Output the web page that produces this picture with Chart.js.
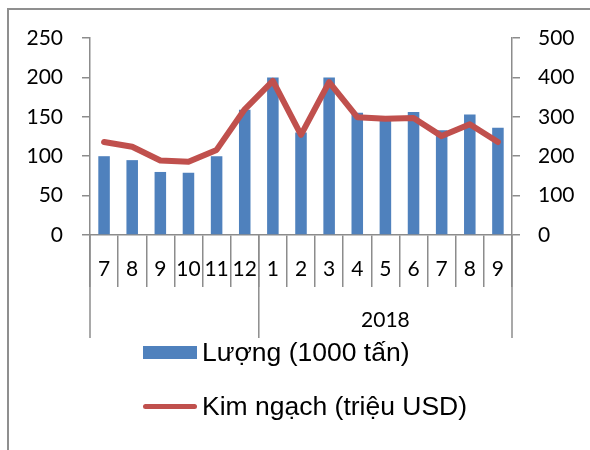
<!DOCTYPE html>
<html>
<head>
<meta charset="utf-8">
<script src="https://cdn.jsdelivr.net/npm/chart.js@4"></script>
<style>
  html, body { margin: 0; padding: 0; background: #fff; overflow: hidden; }
  #wrap { position: absolute; left: 0; top: 0; width: 590px; height: 450px; }
  #frame { position: absolute; left: 7px; top: 8px; width: 700px; height: 600px;
           border: 2px solid #8f8f8f; pointer-events: none; }
  #legend { position: absolute; left: 143px; top: 337px; font-family: "Liberation Sans", Arial, sans-serif;
            font-size: 26.5px; color: #000; }
  .row { display: flex; align-items: center; height: 30px; margin-bottom: 24px; }
  .sw { width: 54px; margin-right: 5px; }
</style>
</head>
<body>
<div id="wrap">
  <canvas id="c" width="590" height="450"></canvas>
  <div id="legend"></div>
  <div id="frame"></div>
</div>
<script>
let months = ['7', '8', '9', '10', '11', '12', '1', '2', '3', '4', '5', '6', '7', '8', '9'];
let yearLabel = '2018';
let yearStart = 6; // index of month 1 of 2018
let luong = [100, 95, 80, 79, 100, 159, 200, 130, 200, 155, 149, 156, 133, 153, 136];
let kimNgach = [236, 224, 189, 186, 216, 319, 391, 254, 388, 299, 295, 297, 251, 281, 236];
let leftTicks = [0, 50, 100, 150, 200, 250];
let rightTicks = [0, 100, 200, 300, 400, 500];

let axisGray = '#8c8c8c';
Chart.defaults.font.family = 'Lato';
Chart.defaults.font.size = 21;
Chart.defaults.color = '#000';

// second label row (year) + long separators
let yearRow = {
  id: 'yearRow',
  afterDraw(chart) {
    let x = chart.scales.x;
    let ctx = chart.ctx;
    let top = x.top;
    let mid = (x.getPixelForTick(yearStart - 1) + x.getPixelForTick(yearStart)) / 2;
    ctx.save();
    ctx.strokeStyle = axisGray;
    ctx.lineWidth = 1.5;
    [x.left, mid, x.right].forEach(function(px) {
      ctx.beginPath();
      ctx.moveTo(px, top);
      ctx.lineTo(px, top + 103);
      ctx.stroke();
    });
    ctx.fillStyle = '#000';
    ctx.font = '21px Lato';
    ctx.textAlign = 'center';
    ctx.textBaseline = 'middle';
    ctx.fillText(yearLabel, (mid + x.right) / 2, top + 85);
    ctx.restore();
  }
};

let chart = new Chart(document.getElementById('c'), {
  type: 'bar',
  data: {
    labels: months,
    datasets: [{
      type: 'bar',
      label: 'Lượng (1000 tấn)',
      data: luong,
      backgroundColor: '#4F81BD',
      barPercentage: 0.41,
      categoryPercentage: 1,
      yAxisID: 'y',
      order: 2
    }, {
      type: 'line',
      label: 'Kim ngạch (triệu USD)',
      data: kimNgach,
      borderColor: '#C0504D',
      backgroundColor: '#C0504D',
      borderWidth: 6,
      pointRadius: 0,
      tension: 0,
      borderJoinStyle: 'round',
      borderCapStyle: 'round',
      yAxisID: 'y1',
      order: 1
    }]
  },
  options: {
    responsive: false,
    animation: false,
    layout: { padding: { top: 38, left: 0, right: 0, bottom: 0 } },
    plugins: { legend: { display: false }, tooltip: { enabled: false } },
    scales: {
      x: {
        offset: true,
        grid: { offset: true, drawOnChartArea: false, drawTicks: true, tickLength: 52,
                color: axisGray, lineWidth: 1.5 },
        border: { color: axisGray, width: 1.5 },
        ticks: { autoSkip: false, maxRotation: 0, padding: -30 },
        afterFit(s) { s.height = 215; }
      },
      y: {
        position: 'left',
        min: 0, max: 250,
        afterBuildTicks(s) { s.ticks = leftTicks.map(v => ({ value: v })); },
        grid: { drawOnChartArea: false, tickLength: 8, color: axisGray, lineWidth: 1.5 },
        border: { color: axisGray, width: 1.5 },
        ticks: { padding: 19 },
        afterFit(s) { s.width = 90; }
      },
      y1: {
        position: 'right',
        min: 0, max: 500,
        afterBuildTicks(s) { s.ticks = rightTicks.map(v => ({ value: v })); },
        grid: { drawOnChartArea: false, tickLength: 8, color: axisGray, lineWidth: 1.5 },
        border: { color: axisGray, width: 1.5 },
        ticks: { padding: 18 },
        afterFit(s) { s.width = 78; }
      }
    }
  },
  plugins: [yearRow]
});

// html legend from the chart's datasets
let legendEl = document.getElementById('legend');
chart.data.datasets.forEach(function(ds) {
  let row = document.createElement('div');
  row.className = 'row';
  let sw = document.createElement('div');
  sw.className = 'sw';
  if (ds.type === 'line') {
    sw.style.height = '5px';
    sw.style.borderRadius = '3px';
    sw.style.background = ds.borderColor;
  } else {
    sw.style.height = '13px';
    sw.style.background = ds.backgroundColor;
  }
  let txt = document.createElement('span');
  txt.textContent = ds.label;
  row.appendChild(sw);
  row.appendChild(txt);
  legendEl.appendChild(row);
});
</script>
</body>
</html>
